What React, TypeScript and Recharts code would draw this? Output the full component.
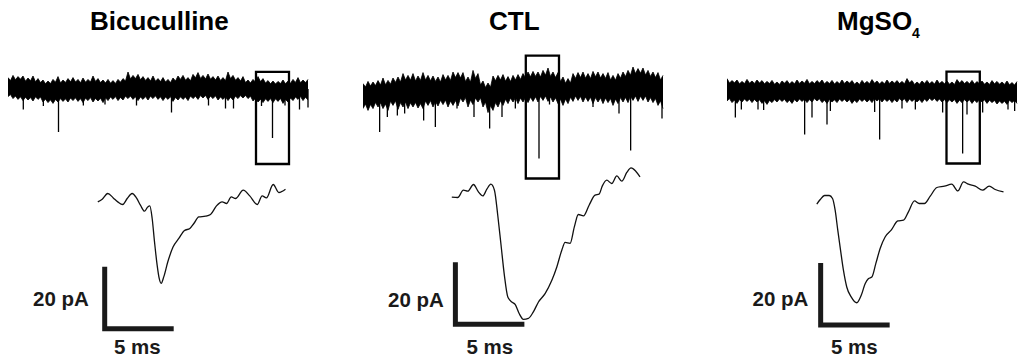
import React from "react";
import { ComposedChart, Line, Area, XAxis, YAxis, ReferenceArea } from "recharts";

// ---------- Titles / labels ----------
const panelTitles = ["Bicuculline", "CTL", "MgSO"];
const titleSubscripts = ["", "", "4"];
const ampScaleLabel = "20 pA";
const timeScaleLabel = "5 ms";
const SCALE_MS = 5;
const SCALE_PA = 20;

// ---------- Continuous recordings (envelope peaks every 1 s, troughs between; current in pA) ----------
const SAMPLE_DT = 1;
const bicUpper = [5.7, 6.8, 6.2, 6.5, 5.5, 6.5, 5.2, 4.5, 4.0, 4.8, 6.2, 4.5, 5.2, 5.7, 4.8, 5.5, 4.8, 6.5, 5.2, 4.5, 4.8, 4.2, 4.8, 5.2, 8.5, 6.8, 7.3, 6.2, 5.7, 6.5, 5.2, 5.7, 4.8, 5.5, 6.5, 6.8, 5.7, 7.3, 8.2, 6.8, 7.5, 6.2, 6.5, 5.7, 8.5, 6.8, 5.7, 6.2, 4.5, 4.8, 6.2, 5.2, 4.2, 4.0, 3.8, 4.5, 4.0, 4.8, 5.7, 4.5, 4.8];
const bicUpperTrough = [4.2, 4.6, 4.9, 3.9, 4.1, 3.6, 3.2, 2.6, 2.7, 3.4, 3.0, 3.3, 3.6, 3.5, 3.1, 3.4, 3.5, 3.8, 3.2, 3.0, 2.9, 2.8, 3.4, 4.0, 5.0, 5.2, 4.6, 4.3, 4.0, 3.9, 3.7, 3.5, 3.2, 4.0, 4.8, 4.4, 4.1, 5.6, 5.3, 5.0, 4.9, 4.5, 4.3, 4.2, 5.2, 4.4, 4.0, 3.2, 3.0, 3.5, 3.7, 3.0, 2.6, 2.5, 2.7, 2.6, 2.9, 3.3, 3.1, 3.2];
const bicLower = [-3.8, -4.8, -5.2, -5.8, -5.5, -6.0, -5.2, -6.5, -6.8, -7.2, -6.5, -6.2, -6.5, -5.8, -6.2, -6.8, -5.8, -6.5, -6.0, -6.8, -5.8, -5.2, -5.8, -5.5, -4.8, -5.2, -5.8, -5.2, -5.5, -4.8, -5.2, -5.8, -5.2, -6.2, -5.5, -5.2, -5.8, -4.8, -5.2, -4.5, -5.2, -4.8, -5.5, -5.2, -5.8, -5.5, -4.8, -4.5, -4.8, -6.0, -6.5, -6.8, -6.2, -6.8, -6.2, -7.2, -6.5, -5.8, -5.2, -5.8, -5.5];
const bicLowerTrough = [-2.8, -3.5, -3.9, -4.1, -4.3, -3.9, -4.0, -5.0, -5.4, -5.2, -4.8, -4.9, -4.5, -4.4, -4.8, -4.6, -4.3, -4.7, -4.6, -4.4, -4.0, -3.8, -4.2, -3.6, -3.5, -3.9, -4.0, -3.8, -3.6, -3.4, -3.9, -4.0, -3.8, -4.2, -3.9, -4.0, -3.5, -3.6, -3.3, -3.2, -3.6, -3.4, -4.0, -3.9, -4.1, -3.6, -3.3, -3.2, -3.6, -4.6, -5.1, -4.9, -4.8, -4.9, -4.7, -5.2, -4.5, -4.0, -3.8, -4.1];
const bicEventT = [3.06, 7.07, 10.1, 15.07, 19.4, 25.7, 32.7, 40.1, 43.5, 45.1, 50.7, 52.9, 55.4, 58.3, 60];
const bicEventA = [-10.2, -8.5, -21.5, -8.2, -7.7, -8.2, -11.8, -8.2, -9.8, -9.8, -8.5, -24.5, -8.2, -10.2, -9.3];
const bicWindow = [49.6, 56.2, -37.5, 8.6];

const ctlUpper = [4.2, 5.3, 5.0, 5.7, 7.0, 5.8, 7.0, 7.5, 9.2, 8.3, 9.2, 8.0, 9.7, 8.3, 8.0, 7.5, 8.7, 8.3, 10.0, 9.7, 9.7, 7.5, 10.8, 9.2, 5.5, 4.5, 8.0, 8.3, 8.7, 7.7, 8.3, 8.7, 9.2, 10.0, 10.3, 10.0, 10.8, 12.0, 10.0, 9.7, 7.5, 6.7, 9.2, 9.7, 10.0, 9.2, 10.3, 10.0, 9.2, 9.7, 8.3, 9.2, 10.0, 10.8, 12.5, 11.7, 12.0, 10.8, 10.0, 9.7, 8.3];
const ctlUpperTrough = [2.5, 3.0, 3.2, 3.5, 3.6, 3.9, 4.8, 5.0, 6.0, 5.9, 5.5, 5.8, 6.0, 5.6, 5.3, 5.0, 6.0, 5.8, 7.2, 7.0, 5.2, 5.0, 6.8, 3.5, 2.2, 2.4, 5.6, 6.0, 5.4, 5.2, 6.0, 6.3, 7.0, 7.6, 7.8, 7.5, 8.4, 7.8, 7.2, 5.2, 4.4, 4.5, 6.8, 7.2, 6.9, 6.7, 7.6, 7.0, 6.8, 6.0, 5.9, 6.9, 7.7, 8.4, 9.2, 9.4, 8.5, 7.8, 7.2, 6.0];
const ctlLower = [-8.3, -9.2, -8.3, -7.5, -8.3, -9.2, -6.7, -8.7, -7.5, -8.3, -7.5, -8.0, -8.3, -6.7, -7.5, -7.0, -6.3, -7.5, -6.7, -7.0, -5.0, -7.5, -6.3, -5.0, -7.5, -10.3, -9.2, -7.5, -6.7, -5.8, -5.0, -5.8, -5.0, -5.3, -4.7, -5.0, -4.2, -4.7, -5.0, -5.8, -6.7, -5.8, -4.7, -4.2, -5.0, -4.7, -5.8, -5.0, -5.8, -5.3, -6.7, -5.8, -5.0, -5.3, -4.2, -4.7, -4.2, -5.0, -5.3, -6.7, -8.3];
const ctlLowerTrough = [-6.0, -6.2, -5.2, -5.4, -6.0, -4.6, -4.4, -5.3, -5.0, -5.4, -5.2, -5.8, -4.5, -4.3, -4.8, -4.1, -4.0, -4.5, -4.3, -3.0, -2.8, -4.0, -3.0, -2.9, -5.0, -6.8, -5.3, -4.4, -3.6, -3.0, -2.8, -3.0, -2.7, -2.6, -2.4, -2.2, -2.0, -2.5, -2.9, -3.6, -3.5, -2.6, -2.0, -2.2, -2.5, -2.6, -2.8, -2.9, -3.0, -3.2, -3.5, -2.8, -2.7, -2.1, -2.0, -2.1, -2.0, -2.8, -3.2, -4.4];
const ctlEventT = [3.33, 4.87, 6.87, 8.33, 12.13, 14.47, 18.8, 22.2, 25.33, 27.8, 30.47, 35.2, 37.3, 46, 51.2, 53.53, 59.8];
const ctlEventA = [-20, -12.5, -11.7, -10.8, -14.2, -17.5, -8.3, -12.5, -18.3, -12.5, -8.3, -33.3, -6.3, -7.5, -10.8, -29.2, -13.3];
const ctlWindow = [32.56, 39.2, -43.25, 18.15];

const mgUpper = [6.2, 5.2, 5.5, 4.8, 5.8, 5.0, 5.5, 5.2, 4.8, 5.3, 4.5, 5.0, 5.2, 4.7, 5.5, 5.0, 5.8, 4.8, 5.2, 5.5, 4.8, 5.3, 4.7, 5.5, 5.0, 5.2, 4.5, 5.3, 4.8, 5.7, 5.0, 4.7, 5.5, 5.0, 5.2, 4.8, 6.2, 5.2, 4.5, 5.0, 5.3, 4.7, 5.5, 4.8, 5.0, 4.5, 5.7, 5.2, 4.8, 5.3, 4.7, 5.0, 4.5, 5.2, 4.8, 4.5, 5.0, 4.2, 4.7];
const mgUpperTrough = [4.0, 4.1, 3.6, 3.7, 3.9, 3.8, 4.0, 3.6, 3.7, 3.4, 3.3, 3.9, 3.5, 3.6, 3.8, 3.9, 3.6, 3.7, 4.0, 3.6, 3.7, 3.5, 3.6, 3.8, 3.9, 3.4, 3.3, 3.7, 3.6, 3.9, 3.5, 3.6, 3.8, 3.9, 3.7, 3.6, 4.1, 3.3, 3.4, 3.8, 3.6, 3.5, 3.7, 3.6, 3.4, 3.3, 4.0, 3.7, 3.6, 3.5, 3.6, 3.4, 3.3, 3.6, 3.4, 3.3, 3.1, 3.0];
const mgLower = [-5.0, -5.8, -6.2, -5.5, -5.2, -5.8, -5.5, -6.2, -6.7, -5.8, -5.5, -5.2, -5.8, -6.2, -5.5, -5.2, -5.8, -5.5, -5.0, -5.8, -6.2, -5.5, -5.8, -5.2, -5.5, -6.2, -5.8, -5.2, -5.5, -5.8, -5.0, -5.5, -5.2, -5.8, -5.5, -5.0, -5.8, -5.2, -5.5, -5.8, -5.2, -4.8, -5.2, -5.5, -5.8, -5.5, -6.2, -5.8, -5.5, -6.2, -5.8, -5.5, -6.2, -5.8, -6.5, -6.2, -6.7, -5.8, -6.2];
const mgLowerTrough = [-3.8, -4.5, -4.3, -4.0, -4.1, -4.2, -4.4, -4.9, -4.7, -4.3, -4.0, -4.1, -4.6, -4.3, -4.0, -4.1, -4.3, -3.8, -3.9, -4.6, -4.3, -4.4, -4.0, -4.1, -4.3, -4.6, -4.0, -4.1, -4.3, -3.8, -3.9, -4.0, -4.1, -4.3, -3.8, -3.9, -4.0, -4.1, -4.3, -4.0, -3.6, -3.7, -4.0, -4.3, -4.4, -4.3, -4.6, -4.3, -4.4, -4.6, -4.3, -4.4, -4.6, -4.7, -5.0, -5.1, -4.6, -4.7];
const mgEventT = [1.67, 2.87, 6.2, 7.33, 15.53, 17, 20, 20.67, 29.53, 30.53, 35, 37.67, 43.13, 47.13, 48, 51.13, 56.2, 57.53];
const mgEventA = [-13.3, -9.2, -9.2, -9.5, -21.7, -13.3, -16.7, -10, -10.5, -24.2, -8.8, -9.2, -10.8, -31.2, -11.7, -10.8, -9.2, -10];
const mgWindow = [43.9, 50.56, -36.25, 9.65];

// ---------- Expanded single events (time in ms, current in pA) ----------
const bicEpscT = [0, 0.32, 0.72, 1.12, 1.45, 1.81, 2.13, 2.49, 2.8, 3.09, 3.38, 3.62, 3.77, 3.94, 4.11, 4.3, 4.45, 4.59, 4.78, 5.07, 5.46, 5.87, 6.28, 6.67, 6.96, 7.32, 7.8, 8.17, 8.6, 9.01, 9.33, 9.67, 9.98, 10.54, 11.01, 11.55, 11.91, 12.22, 12.71, 13.12, 13.6];
const bicEpscI = [0.1, 0.97, 2.81, 1.39, 0.1, -0.74, 1.19, 2.81, 1.39, -0.97, -2.9, -1.52, -1.19, -5.26, -12.8, -20.3, -24.6, -26.2, -24.1, -19.3, -14.4, -11.7, -9.13, -8.48, -6.87, -4.74, -4.52, -3.97, -1.19, 0.1, -0.42, 1.71, 1.19, 3.87, 2.03, -0.74, 2.03, 1.39, 5.71, 3.13, 4.19];

const ctlEpscT = [0, 0.43, 0.84, 1.16, 1.57, 1.93, 2.25, 2.54, 2.83, 3.09, 3.33, 3.57, 3.81, 4.06, 4.35, 4.59, 4.88, 5.19, 5.55, 5.91, 6.28, 6.76, 7.25, 7.61, 7.97, 8.21, 8.57, 8.88, 9.17, 9.54, 9.95, 10.38, 10.67, 10.91, 11.23, 11.59, 11.96, 12.32, 12.68, 12.99, 13.33, 13.64];
const ctlEpscI = [0, -0.1, 2.26, 1.94, 4.1, 1.71, 0.42, 2.58, 4.19, 2.26, -5.81, -15.5, -25.2, -32.2, -33.8, -34.6, -37.5, -39.4, -39.1, -37.0, -33.8, -31.1, -26.8, -22.5, -17.1, -14.6, -14.9, -9.58, -5.58, -6.03, -2.58, 0.65, 0.97, 3.65, 5.48, 4.42, 6.87, 5.16, 7.97, 9.45, 8.39, 6.55];

const mgEpscT = [0, 0.25, 0.56, 0.9, 1.14, 1.33, 1.52, 1.72, 1.93, 2.17, 2.49, 2.9, 3.22, 3.51, 3.75, 3.99, 4.28, 4.59, 4.96, 5.39, 5.87, 6.28, 6.64, 7.08, 7.42, 7.8, 8.22, 8.7, 9.25, 9.78, 10.22, 10.63, 10.99, 11.48, 12.01, 12.49, 12.93, 13.53];
const mgEpscI = [0, 1.52, 2.81, 2.81, 1.84, -1.94, -8.39, -14.8, -21.3, -26.7, -29.9, -31.8, -29.4, -25.6, -24.0, -23.5, -19.1, -14.3, -10.5, -8.39, -5.39, -5.16, -2.48, 1.06, 0.23, 0.23, 2.58, 5.39, 5.81, 6.45, 4.29, 7.19, 6.45, 5.81, 4.52, 5.81, 4.74, 3.97];

// scale-bar corner (ms, pA) for each expanded panel
const scaleCornerT = [0.5, 0.26, 0.28];
const scaleCornerI = [-40.8, -41, -39];

// ---------- layout ----------
type Frame = { ox: number; oy: number; kx: number; ky: number; xd: [number, number]; yd: [number, number] };

const topFrames: Frame[] = [
  { ox: 8, oy: 89, kx: 5, ky: 2, xd: [0, 61], yd: [-45, 20] },
  { ox: 363, oy: 92, kx: 5, ky: 2, xd: [0, 61], yd: [-45, 20] },
  { ox: 727, oy: 91, kx: 5, ky: 2, xd: [0, 58.4], yd: [-45, 20] },
];
const zoomFrames: Frame[] = [
  { ox: 97.3, oy: 202, kx: 13.8, ky: 3.1, xd: [-1, 14.5], yd: [-44, 12] },
  { ox: 451.7, oy: 197, kx: 13.8, ky: 3.1, xd: [-1, 14.5], yd: [-44, 12] },
  { ox: 816.3, oy: 204, kx: 13.8, ky: 3.1, xd: [-1, 14.5], yd: [-44, 12] },
];

const titleX = [90, 489, 837];
const ampLabelX = [33, 388, 752.5];
const ampLabelY = [305.5, 306.5, 306];
const timeLabelX = [114, 466.5, 831];

const FONT = "'Liberation Sans', Arial, Helvetica, sans-serif";

function buildBand(upper: number[], lower: number[], upperTr: number[], lowerTr: number[]) {
  const rows: { t: number; band: number[] }[] = [];
  upper.forEach((u, k) => {
    rows.push({ t: k * SAMPLE_DT, band: [lower[k], u] });
    if (k < upperTr.length) {
      rows.push({ t: (k + 0.5) * SAMPLE_DT, band: [lowerTr[k], upperTr[k]] });
    }
  });
  return rows;
}
function buildEvents(ts: number[], as: number[]) {
  const rows: { t: number; v: number | null }[] = [];
  ts.forEach((t, j) => {
    rows.push({ t, v: 0 });
    rows.push({ t, v: as[j] });
    rows.push({ t, v: null });
  });
  return rows;
}
function buildTrace(ts: number[], is: number[]) {
  return ts.map((t, k) => ({ t, i: is[k] }));
}
function buildScale(t: number, i: number) {
  return [
    { t, s: i + SCALE_PA },
    { t, s: i },
    { t: t + SCALE_MS, s: i },
  ];
}

const recordings = [
  { band: buildBand(bicUpper, bicLower, bicUpperTrough, bicLowerTrough), events: buildEvents(bicEventT, bicEventA), win: bicWindow },
  { band: buildBand(ctlUpper, ctlLower, ctlUpperTrough, ctlLowerTrough), events: buildEvents(ctlEventT, ctlEventA), win: ctlWindow },
  { band: buildBand(mgUpper, mgLower, mgUpperTrough, mgLowerTrough), events: buildEvents(mgEventT, mgEventA), win: mgWindow },
];
const expanded = [
  buildTrace(bicEpscT, bicEpscI),
  buildTrace(ctlEpscT, ctlEpscI),
  buildTrace(mgEpscT, mgEpscI),
];

function frameBox(f: Frame) {
  return {
    left: f.ox + f.xd[0] * f.kx,
    top: f.oy - f.yd[1] * f.ky,
    width: (f.xd[1] - f.xd[0]) * f.kx,
    height: (f.yd[1] - f.yd[0]) * f.ky,
  };
}

function RecordingPanel({ idx }: { idx: number }) {
  const f = topFrames[idx];
  const b = frameBox(f);
  const r = recordings[idx];
  return (
    <div style={{ position: "absolute", left: b.left, top: b.top }}>
      <ComposedChart width={b.width} height={b.height} margin={{ top: 0, right: 0, bottom: 0, left: 0 }}>
        <XAxis type="number" dataKey="t" domain={f.xd} hide allowDataOverflow />
        <YAxis type="number" domain={f.yd} hide allowDataOverflow />
        <Area
          data={r.band}
          dataKey="band"
          type="linear"
          fill="#000"
          fillOpacity={1}
          stroke="#000"
          strokeWidth={0.8}
          dot={false}
          activeDot={false}
          isAnimationActive={false}
        />
        <Line
          data={r.events}
          dataKey="v"
          type="linear"
          stroke="#000"
          strokeWidth={1.3}
          dot={false}
          activeDot={false}
          connectNulls={false}
          isAnimationActive={false}
        />
        <ReferenceArea
          x1={r.win[0]}
          x2={r.win[1]}
          y1={r.win[2]}
          y2={r.win[3]}
          fill="none"
          fillOpacity={0}
          stroke="#000"
          strokeWidth={2.3}
          ifOverflow="visible"
        />
      </ComposedChart>
    </div>
  );
}

function ExpandedPanel({ idx }: { idx: number }) {
  const f = zoomFrames[idx];
  const b = frameBox(f);
  return (
    <div style={{ position: "absolute", left: b.left, top: b.top }}>
      <ComposedChart width={b.width} height={b.height} margin={{ top: 0, right: 0, bottom: 0, left: 0 }}>
        <XAxis type="number" dataKey="t" domain={f.xd} hide allowDataOverflow />
        <YAxis type="number" domain={f.yd} hide allowDataOverflow />
        <Line
          data={expanded[idx]}
          dataKey="i"
          type="monotone"
          stroke="#111"
          strokeWidth={1.3}
          dot={false}
          activeDot={false}
          isAnimationActive={false}
        />
        <Line
          data={buildScale(scaleCornerT[idx], scaleCornerI[idx])}
          dataKey="s"
          type="linear"
          stroke="#1a1a1a"
          strokeWidth={5}
          strokeLinecap="butt"
          strokeLinejoin="miter"
          dot={false}
          activeDot={false}
          isAnimationActive={false}
        />
      </ComposedChart>
    </div>
  );
}

export default function App() {
  return (
    <div
      style={{
        position: "absolute",
        left: 0,
        top: 0,
        width: 1019,
        height: 358,
        overflow: "hidden",
        background: "#fff",
      }}
    >
      {[0, 1, 2].map((i) => (
        <RecordingPanel key={"r" + i} idx={i} />
      ))}
      {[0, 1, 2].map((i) => (
        <ExpandedPanel key={"e" + i} idx={i} />
      ))}
      <svg
        width={1019}
        height={358}
        style={{ position: "absolute", left: 0, top: 0, pointerEvents: "none" }}
      >
        {panelTitles.map((t, i) => (
          <text key={"t" + i} x={titleX[i]} y={30} fontFamily={FONT} fontWeight={700} fontSize={26} fill="#000">
            {t}
            {titleSubscripts[i] ? (
              <tspan fontSize={14} dy={8}>
                {titleSubscripts[i]}
              </tspan>
            ) : null}
          </text>
        ))}
        {[0, 1, 2].map((i) => (
          <text key={"a" + i} x={ampLabelX[i]} y={ampLabelY[i]} fontFamily={FONT} fontWeight={700} fontSize={20.5} fill="#1a1a1a">
            {ampScaleLabel}
          </text>
        ))}
        {[0, 1, 2].map((i) => (
          <text key={"m" + i} x={timeLabelX[i]} y={354} fontFamily={FONT} fontWeight={700} fontSize={20.5} fill="#1a1a1a">
            {timeScaleLabel}
          </text>
        ))}
      </svg>
    </div>
  );
}
